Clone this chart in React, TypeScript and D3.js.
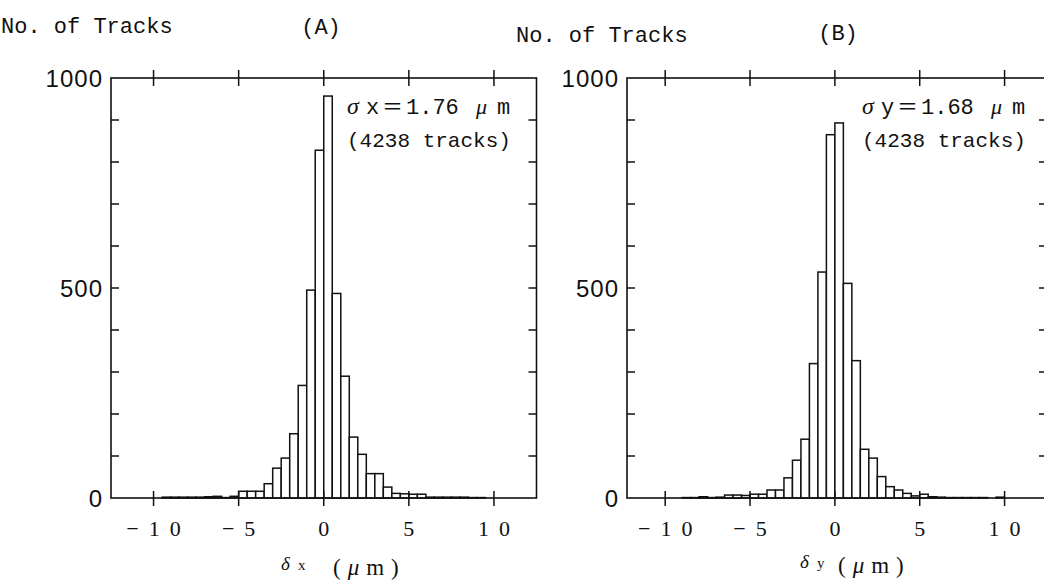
import React from "react";
import * as d3 from "d3";

const width = 1044;
const height = 583;

// lower edges of the 0.5 um bins
const binStarts = [
  -10, -9.5, -9, -8.5, -8, -7.5, -7, -6.5, -6, -5.5,
  -5, -4.5, -4, -3.5, -3, -2.5, -2, -1.5, -1, -0.5,
  0, 0.5, 1, 1.5, 2, 2.5, 3, 3.5, 4, 4.5,
  5, 5.5, 6, 6.5, 7, 7.5, 8, 8.5, 9, 9.5,
];
const binWidth = 0.5;

// (A) delta x
const countsX = [
  0, 2, 2, 2, 2, 2, 3, 4, 1, 4,
  16, 16, 16, 34, 71, 95, 153, 268, 495, 828,
  957, 487, 290, 145, 104, 58, 58, 26, 11, 10,
  9, 9, 2, 2, 2, 2, 2, 1, 1, 0,
];

// (B) delta y
const countsY = [
  0, 0, 1, 1, 3, 1, 2, 7, 7, 6,
  9, 9, 19, 19, 48, 90, 140, 320, 538, 865,
  893, 511, 327, 116, 95, 51, 27, 19, 11, 5,
  9, 3, 2, 1, 1, 1, 1, 1, 0, 2,
];

const xTicks = [-10, -5, 0, 5, 10];
const yTicks = [100, 200, 300, 400, 500, 600, 700, 800, 900];
const yLabels = [0, 500, 1000];
const panelTags = ["(A)", "(B)"];
const sigmaNames = ["x", "y"];
const sigmaValues = ["1.76", "1.68"];
const trackTotals = [4238, 4238];

const ink = "#111";
const mono = "'Liberation Mono', monospace";
const serif = "'Liberation Serif', serif";

const panels = [
  {
    counts: countsX,
    left: 111, right: 536.5, domain: [-12.5, 12.5],
    titleX: 1, titleY: 33, tagX: 321, tagY: 34,
    noteX: 347, xlab: { d: 281, s: 298, base: 570, unit: 333, unitBase: 575 },
  },
  {
    counts: countsY,
    left: 627, right: 1047, domain: [-12.25, 12.5],
    titleX: 516, titleY: 42, tagX: 838, tagY: 40,
    noteX: 862, xlab: { d: 800, s: 817, base: 568, unit: 838, unitBase: 573 },
  },
];

const top = 78;
const bottom = 498;

const yScale = d3.scaleLinear().domain([0, 1000]).range([bottom, top]);

const fmtX = (d: number) => (d < 0 ? `\u2212${Math.abs(d)}` : `${d}`);

function Panel({ p, i }: { p: typeof panels[number]; i: number }) {
  const x = d3.scaleLinear().domain(p.domain).range([p.left, p.right]);
  const ls = 10;
  return (
    <g>
      <text x={p.titleX} y={p.titleY} fontFamily={mono} fontSize={22} fill={ink}>
        No. of Tracks
      </text>
      <text x={p.tagX} y={p.tagY} fontFamily={mono} fontSize={22} fill={ink} textAnchor="middle">
        {panelTags[i]}
      </text>

      {binStarts.map((b, j) => {
        const c = p.counts[j];
        return (
          <rect
            key={j}
            x={x(b)}
            width={x(b + binWidth) - x(b)}
            y={yScale(c)}
            height={yScale(0) - yScale(c)}
            fill="#fff"
            stroke={ink}
            strokeWidth={1.5}
          />
        );
      })}

      <rect
        x={p.left}
        y={top}
        width={p.right - p.left}
        height={bottom - top}
        fill="none"
        stroke={ink}
        strokeWidth={1.6}
      />

      {xTicks.map((t) => (
        <g key={t}>
          <line x1={x(t)} x2={x(t)} y1={top - 8} y2={top + 8} stroke={ink} strokeWidth={1.5} />
          <line x1={x(t)} x2={x(t)} y1={bottom - 7} y2={bottom + 8} stroke={ink} strokeWidth={1.5} />
          <text
            x={x(t) + ls / 2}
            y={536}
            fontFamily={serif}
            fontSize={22}
            letterSpacing={ls}
            textAnchor="middle"
            fill={ink}
          >
            {fmtX(t)}
          </text>
        </g>
      ))}

      {yTicks.map((t) => (
        <g key={t}>
          <line x1={p.left} x2={p.left + 8} y1={yScale(t)} y2={yScale(t)} stroke={ink} strokeWidth={1.5} />
          <line x1={p.right - 8} x2={p.right} y1={yScale(t)} y2={yScale(t)} stroke={ink} strokeWidth={1.5} />
        </g>
      ))}

      {yLabels.map((t) => (
        <text
          key={t}
          x={p.left - 8}
          y={yScale(t) + 8.5}
          fontFamily="'Liberation Sans', sans-serif"
          fontSize={24}
          letterSpacing={1}
          textAnchor="end"
          fill={ink}
        >
          {t}
        </text>
      ))}

      <text y={114} fontSize={22} fill={ink} fontFamily={mono}>
        <tspan x={p.noteX} fontFamily={serif} fontStyle="italic" fontSize={24}>σ</tspan>
        <tspan x={p.noteX + 19}>{sigmaNames[i]}</tspan>
        <tspan x={p.noteX + 35} fontFamily="'Noto Sans CJK JP', sans-serif" fontSize={21}>＝</tspan>
        <tspan x={p.noteX + 59}>{sigmaValues[i]}</tspan>
        <tspan x={p.noteX + 129} fontFamily={serif} fontStyle="italic" fontSize={22}>μ</tspan>
        <tspan x={p.noteX + 150}>m</tspan>
      </text>
      <text x={p.noteX} y={147} fontSize={21} fill={ink} fontFamily={mono}>
        ({trackTotals[i]} tracks)
      </text>

      <text y={p.xlab.base} fill={ink} fontFamily={serif}>
        <tspan x={p.xlab.d} fontStyle="italic" fontSize={19}>δ</tspan>
        <tspan x={p.xlab.s} fontSize={15}>{sigmaNames[i]}</tspan>
      </text>
      <text y={p.xlab.unitBase} fill={ink} fontFamily={serif} fontSize={23} letterSpacing={7}>
        <tspan x={p.xlab.unit}>(</tspan>
        <tspan fontStyle="italic">μ</tspan>
        <tspan>m)</tspan>
      </text>
    </g>
  );
}

export default function App() {
  return (
    <svg
      width={width}
      height={height}
      style={{ position: "absolute", left: 0, top: 0, background: "#fff" }}
    >
      <rect width={width} height={height} fill="#fff" />
      {panels.map((p, i) => (
        <Panel key={i} p={p} i={i} />
      ))}
    </svg>
  );
}
